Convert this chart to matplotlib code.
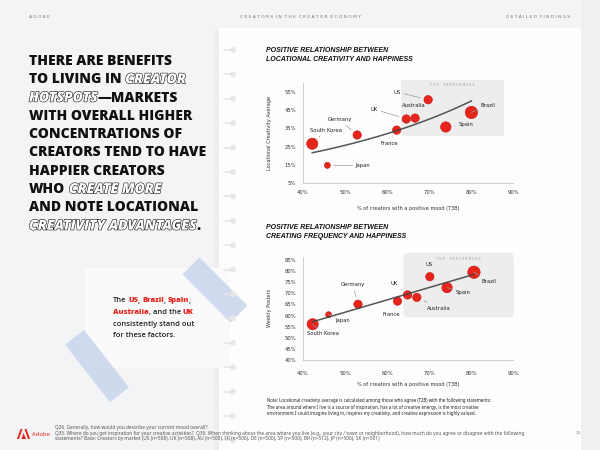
import numpy as np
import matplotlib
matplotlib.use('Agg')
import matplotlib.pyplot as plt
from matplotlib.patches import Rectangle, FancyBboxPatch, Circle, Polygon
from matplotlib import patheffects as pe

# datos de los dos graficos
paises = ['US', 'Brazil', 'Australia', 'UK', 'Spain', 'France', 'Germany', 'South Korea', 'Japan']
animo = [69.8, 80.1, 66.7, 64.6, 74.0, 62.3, 52.9, 42.2, 45.8]          # % positive mood, grafico 1
creatividad = [50.8, 43.8, 40.7, 40.2, 35.8, 34.1, 31.4, 26.6, 14.7]    # locational creativity avg
animo2 = [70.2, 80.7, 67.1, 64.9, 74.3, 62.5, 53.1, 42.3, 46.1]         # % positive mood, grafico 2
semanal = [77.5, 79.5, 68.2, 69.3, 72.6, 66.5, 65.1, 56.1, 60.4]        # weekly posters
y_ticks1 = [5, 15, 25, 35, 45, 55]
y_ticks2 = [40, 45, 50, 55, 60, 65, 70, 75, 80, 85]
x_ticks = [40, 50, 60, 70, 80, 90]

# tamano de burbuja (radio en px) y posicion de etiquetas
radio = {'US': 4.2, 'Brazil': 6.2, 'Australia': 4.2, 'UK': 4.2, 'Spain': 5.2,
         'France': 4.2, 'Germany': 4.2, 'South Korea': 5.6, 'Japan': 3.0}
etiq1 = {'US': (62.5, 55.0, True), 'Australia': (66.4, 47.9, False), 'Brazil': (84.0, 47.7, True),
         'UK': (57.0, 45.6, True), 'Germany': (48.7, 39.9, True), 'South Korea': (45.4, 34.0, True),
         'Spain': (78.8, 37.0, True), 'France': (60.6, 26.9, True), 'Japan': (54.3, 14.7, True)}
etiq2 = {'US': (70.0, 83.1, False), 'Germany': (51.9, 73.8, True), 'UK': (61.7, 74.4, True),
         'Brazil': (84.3, 75.3, True), 'Spain': (78.0, 70.4, True), 'Australia': (72.4, 63.4, True),
         'France': (61.0, 60.6, True), 'Japan': (49.4, 58.0, True), 'South Korea': (44.8, 51.8, True)}

ROJO = '#e8251d'
BORDE = '#c0160f'

fig = plt.figure(figsize=(6, 4.5), dpi=100)
fig.patch.set_facecolor('#f3f4f6')
renderer = fig.canvas.get_renderer()

# fondo en pixeles
bg = fig.add_axes([0, 0, 1, 1])
bg.set_xlim(0, 600)
bg.set_ylim(450, 0)
bg.axis('off')
bg.set_zorder(-5)

bg.add_patch(Rectangle((214, 30), 370, 425, fc='#e9eaec', ec='none', alpha=0.6))
bg.add_patch(Rectangle((219, 28), 362, 425, fc='#fdfdfd', ec='none'))
bg.add_patch(Rectangle((581, 0), 19, 450, fc='#eff0f1', ec='none'))
# hoja suelta y cintas
bg.add_patch(Rectangle((85, 268), 145, 100, fc='#fafafa', ec='none'))


def cinta(cx, cy, largo, grueso, ang):
    bg.add_patch(Rectangle((cx - largo / 2, cy - grueso / 2), largo, grueso, angle=ang,
                           rotation_point='center', fc='#c9d5ec', ec='none', alpha=0.85))


cinta(215, 290, 68, 24, 45)
cinta(97, 366, 73, 24, 52)

# anillas del cuaderno
for yy in np.arange(50, 445, 24.4):
    bg.plot([224, 232], [yy, yy], color='#e4e5e7', lw=1.1, solid_capstyle='round')
    bg.add_patch(Circle((233, yy), 3.0, fc='#e8e9eb', ec='none'))


def ancho(t):
    return t.get_window_extent(renderer).width


def espacio(kw):
    a = bg.text(0, -50, 'a a', **kw)
    b = bg.text(0, -50, 'aa', **kw)
    w = ancho(a) - ancho(b)
    a.remove()
    b.remove()
    return w


def linea_mixta(x, y, partes, **base):
    # partes: (texto, estilo) -> dibuja una tras otra
    for txt, est in partes:
        kw = dict(base)
        kw.update(est)
        if txt.startswith(' '):
            x += espacio(kw)
            txt = txt.lstrip(' ')
        t = bg.text(x, y, txt, va='center', ha='left', **kw)
        x += ancho(t)
    return x


# encabezado
bg.text(29, 17, ' '.join('ADOBE'), fontsize=3.2, color='#777', va='center')
bg.text(300, 17, '  '.join(' '.join(w) for w in 'CREATORS IN THE CREATOR ECONOMY'.split()),
        fontsize=3.2, color='#777', va='center', ha='center')
bg.text(570, 17, '  '.join(' '.join(w) for w in 'DETAILED FINDINGS'.split()),
        fontsize=3.2, color='#777', va='center', ha='right')

# titular grande
fam = 'Open Sans'
prueba = bg.text(0, -100, 'CREATORS TEND TO HAVE', fontsize=10, family=fam, fontweight='heavy')
tam = 10 * 177 / ancho(prueba)
prueba.remove()
normal = dict(color='#111111')
hueco = dict(color='white', style='italic',
             path_effects=[pe.withStroke(linewidth=0.8, foreground='#111111')])
lineas = [
    [('THERE ARE BENEFITS', normal)],
    [('TO LIVING IN', normal), (' CREATOR', hueco)],
    [('HOTSPOTS', hueco), ('—MARKETS', normal)],
    [('WITH OVERALL HIGHER', normal)],
    [('CONCENTRATIONS OF', normal)],
    [('CREATORS TEND TO HAVE', normal)],
    [('HAPPIER CREATORS', normal)],
    [('WHO', normal), (' CREATE MORE', hueco)],
    [('AND NOTE LOCATIONAL', normal)],
    [('CREATIVITY ADVANTAGES', hueco), ('.', normal)],
]
for i, partes in enumerate(lineas):
    linea_mixta(29, 61 + i * 18.3, partes, fontsize=tam, family=fam, fontweight='heavy')

# parrafo rojo
neg = dict(color='#222222', fontweight='semibold')
rojo = dict(color=ROJO, fontweight='heavy')
parrafo = [
    [('The', neg), (' US', rojo), (',', neg), (' Brazil', rojo), (',', neg), (' Spain', rojo), (',', neg)],
    [('Australia', rojo), (',', neg), (' and the', neg), (' UK', rojo)],
    [('consistently stand out', neg)],
    [('for these factors.', neg)],
]
for i, partes in enumerate(parrafo):
    linea_mixta(113, 301 + i * 11.5, partes, fontsize=5.4, family='Open Sans')


def grafico(caja, xs, ys, ylim, yticks, ylabel, etiq, caja_top, redondo, ajuste, xpad, xlpad):
    ax = fig.add_axes(caja)
    ax.set_facecolor('none')
    ax.set_xlim(40, 90)
    ax.set_ylim(*ylim)
    ax.set_xticks(x_ticks)
    ax.set_xticklabels([f'{v}%' for v in x_ticks])
    ax.set_yticks(yticks)
    ax.set_yticklabels([f'{v}%' for v in yticks])
    ax.tick_params(length=0, labelsize=3.8, labelcolor='#333', pad=5)
    ax.tick_params(axis='x', pad=xpad)
    for s in ['top', 'right']:
        ax.spines[s].set_visible(False)
    for s in ['left', 'bottom']:
        ax.spines[s].set_color('#c8c8c8')
        ax.spines[s].set_linewidth(0.6)
    ax.set_ylabel(ylabel, fontsize=3.6, color='#333', labelpad=9)
    ax.set_xlabel('% of creators with a positive mood (T3B)', fontsize=3.6, color='#333', labelpad=xlpad)

    # caja de "top performers"
    x0, x1, y0, y1 = caja_top
    p0 = ax.transData.transform((x0, y0))
    p1 = ax.transData.transform((x1, y1))
    asp = (y1 - y0) / (p1[1] - p0[1]) / ((x1 - x0) / (p1[0] - p0[0]))
    estilo = 'round,pad=0,rounding_size=1.2' if redondo else 'square,pad=0'
    ax.add_patch(FancyBboxPatch((x0, y0), x1 - x0, y1 - y0, boxstyle=estilo, mutation_aspect=asp,
                                fc='#ededed', ec='none', clip_on=False, zorder=0))
    ax.text((x0 + x1) / 2, y1 - (y1 - y0) * 0.09, ' '.join('TOP  PERFORMERS'), fontsize=2.3,
            color='#999', ha='center', va='center')

    # linea de tendencia
    xs_a = np.array(xs)
    ys_a = np.array(ys)
    xx = np.linspace(xs_a.min(), xs_a.max(), 100)
    if ajuste == 'exp':
        b, a = np.polyfit(xs_a, np.log(ys_a), 1)
        yy = np.exp(a + b * xx)
    else:
        b, a = np.polyfit(xs_a, ys_a, 1)
        yy = a + b * xx
    ax.plot(xx, yy, color='#444444', lw=1.1, zorder=4, alpha=0.9)

    tam_s = [(1.44 * radio[p]) ** 2 for p in paises]
    ax.scatter(xs, ys, s=tam_s, color=ROJO, edgecolor=BORDE, linewidth=0.4, zorder=3, clip_on=False)

    for p, x, y in zip(paises, xs, ys):
        tx, ty, guia = etiq[p]
        if guia:
            ax.annotate(p, xy=(x, y), xytext=(tx, ty), fontsize=3.8, color='#222', ha='center', va='center',
                        bbox=dict(boxstyle='square,pad=0.6', fc='none', ec='none'),
                        arrowprops=dict(arrowstyle='-', color='#999', lw=0.5, shrinkA=0,
                                        shrinkB=radio[p] + 1.5), zorder=5)
        else:
            ax.text(tx, ty, p, fontsize=3.8, color='#222', ha='center', va='center', zorder=5)
    return ax


grafico([303 / 600, 1 - 183 / 450, 210 / 600, 100 / 450], animo, creatividad, (5, 60), y_ticks1,
        'Locational Creativity Average', etiq1, (63.4, 87.8, 31.0, 61.8), False, 'exp', 5, 8)
grafico([303 / 600, 1 - 360 / 450, 210 / 600, 103.3 / 450], animo2, semanal, (40, 86.5), y_ticks2,
        'Weekly Posters', etiq2, (63.9, 90.2, 59.2, 88.3), True, 'lin', 8, 4)

# titulos de los graficos
bg.text(266, 47, 'POSITIVE RELATIONSHIP BETWEEN\nLOCATIONAL CREATIVITY AND HAPPINESS',
        fontsize=5, fontweight='bold', style='italic', family='Liberation Sans', color='#111',
        va='top', linespacing=1.35)
bg.text(266, 224, 'POSITIVE RELATIONSHIP BETWEEN\nCREATING FREQUENCY AND HAPPINESS',
        fontsize=5, fontweight='bold', style='italic', family='Liberation Sans', color='#111',
        va='top', linespacing=1.35)

# nota
nota = ('Note: Locational creativity average is calculated among those who agree (T2B) with the following statements:\n'
        'The area around where I live is a source of inspiration, has a lot of creative energy, is the most creative\n'
        'environment I could imagine living in, inspires my creativity, and creative expression is highly valued.')
bg.text(267, 407, nota, fontsize=3.15, color='#222', va='center', linespacing=1.45, fontweight='semibold',
        family='Noto Sans')

# pie
pie = ('Q26. Generally, how would you describe your current mood overall?\n'
       'Q35. Where do you get inspiration for your creative activities?  Q36. When thinking about the area where you '
       'live (e.g., your city / town or neighborhood), how much do you agree or disagree with the following\n'
       'statements? Base: Creators by market (US (n=508), UK (n=508), AU (n=500), FR (n=506), DE (n=500), '
       'SP (n=500), BR (n=512), JP (n=506), SK (n=501)')
bg.text(55, 433, pie, fontsize=3.45, color='#555', va='center', linespacing=1.2, family='Noto Sans')
bg.text(578, 433, '25', fontsize=3.2, color='#888', va='center', ha='center')

# logo
bg.add_patch(Polygon([(17, 439), (20.5, 429), (22.5, 429), (19, 439)], fc=ROJO, ec='none'))
bg.add_patch(Polygon([(24.5, 429), (26.5, 429), (30, 439), (28, 439)], fc=ROJO, ec='none'))
bg.add_patch(Polygon([(23.5, 433), (26, 439), (21.5, 439)], fc=ROJO, ec='none'))
bg.text(32, 434.5, 'Adobe', fontsize=4.2, color=ROJO, fontweight='bold', va='center', family='Noto Sans')

fig.savefig('out.png', dpi=100, facecolor=fig.get_facecolor())
